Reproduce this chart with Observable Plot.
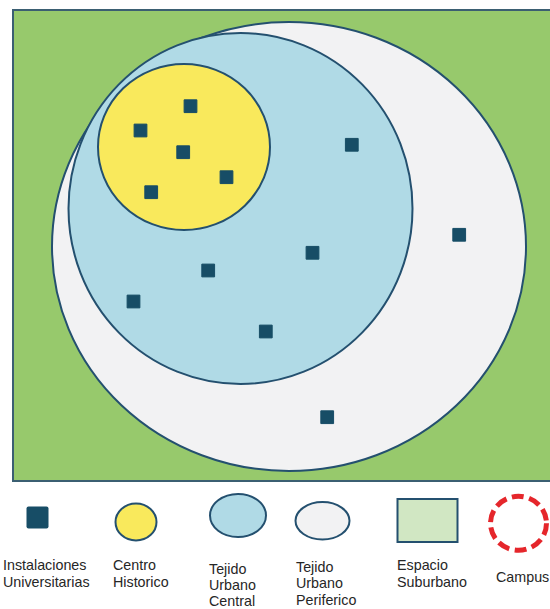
<!DOCTYPE html>
<html>
<head>
<meta charset="utf-8">
<script src="https://cdn.jsdelivr.net/npm/d3@7"></script>
<script src="https://cdn.jsdelivr.net/npm/@observablehq/plot@0.6"></script>
<style>
  body { margin: 0; background: #ffffff; font-family: "Liberation Sans", sans-serif; }
  #wrap { position: relative; width: 550px; height: 609px; overflow: hidden; }
  #chart { position: absolute; left: 0; top: 0; }
  #legend { position: absolute; left: 0; top: 486px; }
</style>
</head>
<body>
<div id="wrap"><div id="chart"></div><div id="legend"></div></div>
<script>
// ---------- data (map units) ----------
const suburbName = "Espacio Suburbano";
const suburbX = [13, 560];
const suburbY = [10, 481];

const ringNames = ["Tejido Urbano Periferico", "Tejido Urbano Central", "Centro Historico"];
const ringCx = [289, 240.5, 184];
const ringCy = [246.5, 208.5, 147];
const ringRx = [237, 172, 86];
const ringRy = [224.5, 175.5, 83];

const facilityX = [190, 140, 182.7, 226, 150.7, 351.3, 312, 207.7, 265.3, 458.7, 133, 326.7];
const facilityY = [105.7, 130, 151.7, 176.7, 191.7, 144.3, 252.3, 270, 331, 234.3, 301, 416.7];

const legendLabels = [
  ["Instalaciones", "Universitarias"],
  ["Centro", "Historico"],
  ["Tejido", "Urbano", "Central"],
  ["Tejido", "Urbano", "Periferico"],
  ["Espacio", "Suburbano"],
  ["Campus"]
];

// ---------- styles ----------
const C = {
  green: "#97c96c",
  border: "#3b5f72",
  ring: "#24506f",
  fills: ["#f2f2f3", "#b0dae6", "#f9e95c"],
  square: "#174d66",
  legendGreen: "#d1e7c3",
  red: "#e5262b",
  text: "#262626"
};

const zones = [{name: suburbName, x1: suburbX[0], x2: suburbX[1], y1: suburbY[0], y2: suburbY[1]}];
const rings = ringNames.map((n, i) => ({name: n, cx: ringCx[i], cy: ringCy[i], rx: ringRx[i], ry: ringRy[i], fill: C.fills[i]}));
const facilities = facilityX.map((x, i) => ({x, y: facilityY[i]}));

function ellipseMark(data) {
  return (index, scales) => {
    const {x, y} = scales;
    const g = d3.create("svg:g");
    for (const d of data) {
      g.append("ellipse")
        .attr("cx", x(d.cx)).attr("cy", y(d.cy))
        .attr("rx", Math.abs(x(d.cx + d.rx) - x(d.cx)))
        .attr("ry", Math.abs(y(d.cy + d.ry) - y(d.cy)))
        .attr("fill", d.fill)
        .attr("stroke", C.ring)
        .attr("stroke-width", 2);
    }
    return g.node();
  };
}

const chart = Plot.plot({
  width: 550,
  height: 486,
  margin: 0,
  x: {domain: [0, 550], range: [0, 550], axis: null},
  y: {domain: [0, 486], range: [0, 486], axis: null},
  style: {background: "transparent", overflow: "hidden"},
  marks: [
    Plot.rect(zones, {x1: "x1", x2: "x2", y1: "y1", y2: "y2", fill: C.green, stroke: C.border, strokeWidth: 2}),
    ellipseMark(rings),
    Plot.dot(facilities, {x: "x", y: "y", symbol: "square", r: 7.2, fill: C.square, stroke: C.square, strokeWidth: 1, strokeLinejoin: "round"})
  ]
});
document.getElementById("chart").append(chart);

// ---------- legend ----------
const L = d3.select("#legend").append("svg")
  .attr("width", 550).attr("height", 123)
  .style("display", "block");

// symbols
L.append("rect").attr("x", 26.5).attr("y", 20.5).attr("width", 22).attr("height", 22)
  .attr("rx", 2).attr("fill", C.square);
L.append("ellipse").attr("cx", 136).attr("cy", 36).attr("rx", 20.5).attr("ry", 18.5)
  .attr("fill", C.fills[2]).attr("stroke", C.ring).attr("stroke-width", 2);
L.append("ellipse").attr("cx", 238).attr("cy", 29.5).attr("rx", 28).attr("ry", 21.5)
  .attr("fill", C.fills[1]).attr("stroke", C.ring).attr("stroke-width", 2);
L.append("ellipse").attr("cx", 322.5).attr("cy", 34.8).attr("rx", 27).attr("ry", 18.7)
  .attr("fill", C.fills[0]).attr("stroke", C.ring).attr("stroke-width", 2);
L.append("rect").attr("x", 397.5).attr("y", 13).attr("width", 60).attr("height", 43)
  .attr("fill", C.legendGreen).attr("stroke", C.ring).attr("stroke-width", 2);
L.append("ellipse").attr("cx", 518.5).attr("cy", 37.3).attr("rx", 28).attr("ry", 27)
  .attr("fill", "none").attr("stroke", C.red).attr("stroke-width", 5)
  .attr("stroke-dasharray", "12 5.5");

// labels
const labelPos = [
  {x: 3, y: 84, dy: 16.7},
  {x: 113, y: 84, dy: 16.7},
  {x: 209, y: 88, dy: 16.2},
  {x: 296, y: 85.5, dy: 16.5},
  {x: 397, y: 84, dy: 16.7},
  {x: 496, y: 95.7, dy: 16.7}
];
legendLabels.forEach((lines, i) => {
  const p = labelPos[i];
  const t = L.append("text")
    .attr("font-family", "'Liberation Sans', Arial, sans-serif")
    .attr("font-size", 14.3)
    .attr("fill", C.text);
  lines.forEach((s, j) => {
    t.append("tspan").attr("x", p.x).attr("y", p.y + j * p.dy).text(s);
  });
});
</script>
</body>
</html>
